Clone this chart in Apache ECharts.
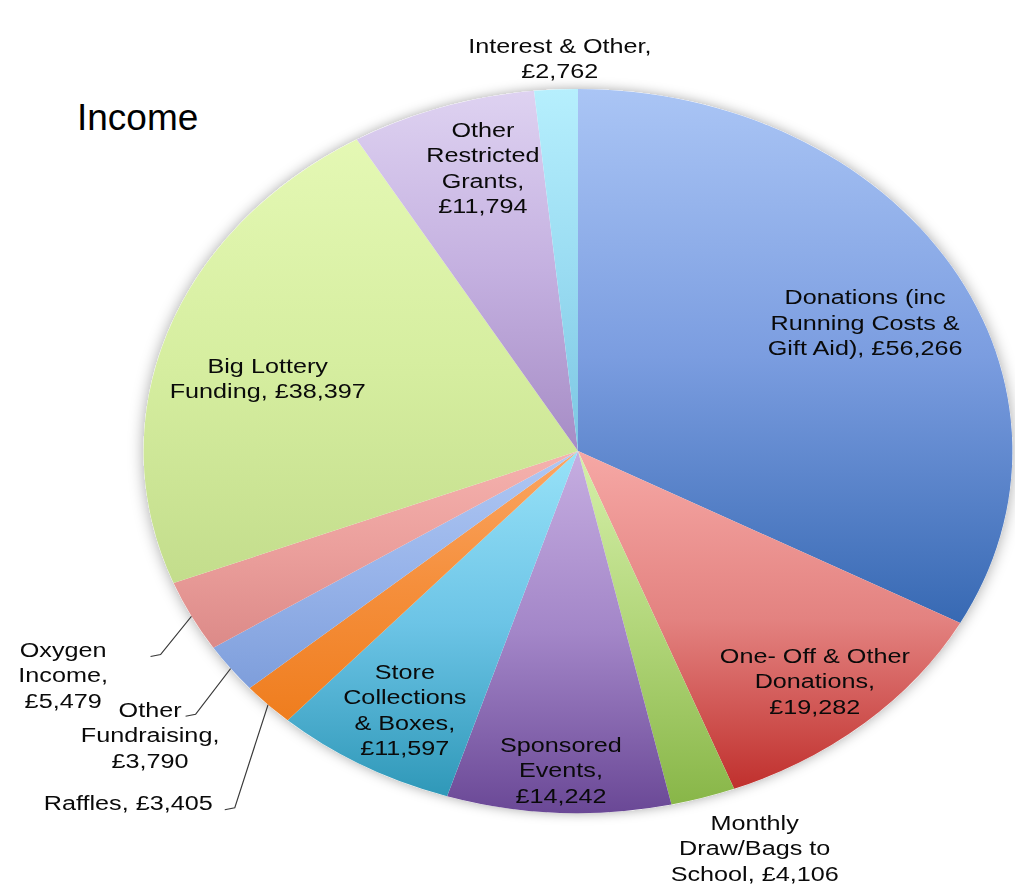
<!DOCTYPE html>
<html><head><meta charset="utf-8">
<script src="https://cdn.jsdelivr.net/npm/echarts@6/dist/echarts.min.js"></script>
<style>
html,body{margin:0;padding:0;background:#fff;overflow:hidden;}
#wrap{position:relative;width:1015px;height:890px;overflow:hidden;background:#fff;}
#main{position:absolute;left:0;top:0;width:846px;height:890px;transform:scaleX(1.2);transform-origin:0 0;}
#title{position:absolute;left:0;top:0;width:1015px;height:890px;pointer-events:none;}
</style></head><body>
<div id="wrap"><div id="main"></div><div id="title"></div></div>
<script>
// ---- data ----
const categories = [
  'Donations (inc\nRunning Costs &\nGift Aid)',
  'One- Off & Other\nDonations',
  'Monthly\nDraw/Bags to\nSchool',
  'Sponsored\nEvents',
  'Store\nCollections\n& Boxes',
  'Raffles',
  'Other\nFundraising',
  'Oxygen\nIncome',
  'Big Lottery\nFunding',
  'Other\nRestricted\nGrants',
  'Interest & Other'
];
const values = [56266, 19282, 4106, 14242, 11597, 3405, 3790, 5479, 38397, 11794, 2762];
const valueSeparators = [', ', ',\n', ', ', ',\n', ',\n', ', ', ',\n', ',\n', ', ', ',\n', ',\n'];
const titleText = 'Income';

// ---- styles ----
const SX = 1.2;               // horizontal stretch of the drawing
const CX = 578 / SX, CY = 451, RADIUS = 362;
const FONT = 'Liberation Sans', FONT_SIZE = 21, LINE_H = 25.5;
const sliceColors = [
  ['#aac5f5', '#7b9de0', '#3769b3'],
  ['#f6a8a5', '#e38280', '#c0302d'],
  ['#d6f0aa', '#b2d67a', '#88b648'],
  ['#c6aee1', '#a386c8', '#6a4896'],
  ['#98e2f8', '#6cc4e6', '#2f98b8'],
  ['#fba663', '#f58f3c', '#ef7d1e'],
  ['#b0c8f3', '#98b4ea', '#7e9edb'],
  ['#f5b2ae', '#eb9f9c', '#dc8a88'],
  ['#e4f8b4', '#d6eea0', '#c3dd8c'],
  ['#ded2f1', '#c4b0e0', '#a68cc5'],
  ['#b6effd', '#9adcf2', '#7cc6e2']
];
// label placement: radial factor and angle nudge (deg)
const labelPlacement = [
  {f: 0.75, da: 2.6}, {f: 0.837, da: 0.7}, {f: 1.17, da: -3.6}, {f: 0.882, da: 0},
  {f: 0.819, da: -0.6}, {f: 1.42, da: 1.3}, {f: 1.259, da: -1.6}, {f: 1.337, da: -0.4},
  {f: 0.742, da: -3.3}, {f: 0.813, da: 2.6}, {f: 1.086, da: 0.7}
];
const leaderGap = {5: 12, 6: 4, 7: 44};   // screen px between text and leader line end

const total = values.reduce((a, b) => a + b, 0);
const cum = [];
values.reduce((acc, v, i) => { cum[i] = acc; return acc + v; }, 0);

function labelText(i) {
  return categories[i] + valueSeparators[i] + '£' + values[i].toLocaleString('en-GB');
}
const mctx = document.createElement('canvas').getContext('2d');
mctx.font = FONT_SIZE + 'px "' + FONT + '"';
function textW(s) { return mctx.measureText(s).width; }

function labelLayout(params) {
  const i = params.dataIndex;
  const mid = (cum[i] + values[i] / 2) / total * 360;
  const p = labelPlacement[i];
  const a = (mid + p.da) * Math.PI / 180;
  const R = p.f * RADIUS;
  const x = CX + R * Math.sin(a), y = CY - R * Math.cos(a);
  const out = {x: x, y: y, align: 'center', verticalAlign: 'middle', hideOverlap: false};
  if (leaderGap[i] != null) {
    const am = mid * Math.PI / 180;
    const sx = CX + RADIUS * Math.sin(am), sy = CY - RADIUS * Math.cos(am);
    const lines = labelText(i).split('\n');
    const w = textW(lines[0]);
    const firstY = y - (lines.length - 1) / 2 * LINE_H;
    const ex = x + w / 2 + leaderGap[i] / SX, ey = firstY + 7;
    const bx = ex + 10 / SX, by = ey - 2;
    out.labelLinePoints = [[sx, sy], [bx, by], [ex, ey]];
  }
  return out;
}

const pieData = categories.map((c, i) => ({
  name: c,
  value: values[i],
  itemStyle: {
    color: {
      type: 'linear', x: 0, y: 0, x2: 0, y2: 1,
      colorStops: [
        {offset: 0, color: sliceColors[i][0]},
        {offset: 0.5, color: sliceColors[i][1]},
        {offset: 1, color: sliceColors[i][2]}
      ]
    }
  },
  labelLine: {show: leaderGap[i] != null}
}));

const chart = echarts.init(document.getElementById('main'), null, {renderer: 'svg'});
chart.setOption({
  animation: false,
  backgroundColor: 'transparent',
  series: [
    {
      type: 'pie', silent: true, z: 1,
      center: [CX, CY], radius: RADIUS,
      label: {show: false}, labelLine: {show: false},
      itemStyle: {color: '#ffffff', shadowBlur: 12, shadowColor: 'rgba(0,0,0,0.35)'},
      data: [{name: 'all', value: total}]
    },
    {
      type: 'pie', z: 2,
      center: [CX, CY], radius: RADIUS,
      startAngle: 90, clockwise: true,
      avoidLabelOverlap: false,
      emphasis: {disabled: true},
      label: {
        show: true, position: 'outside', overflow: 'none',
        formatter: (p) => labelText(p.dataIndex),
        color: '#0a0a0a', fontFamily: FONT, fontSize: FONT_SIZE, lineHeight: LINE_H
      },
      labelLine: {show: false, lineStyle: {color: '#3a3a3a', width: 1}},
      labelLayout: labelLayout,
      data: pieData
    }
  ]
});

const tchart = echarts.init(document.getElementById('title'), null, {renderer: 'svg'});
tchart.setOption({
  animation: false,
  title: {
    text: titleText, left: 77, top: 99, padding: 0,
    textStyle: {fontSize: 37, fontWeight: 'normal', color: '#000', fontFamily: FONT}
  }
});
</script>
</body></html>
